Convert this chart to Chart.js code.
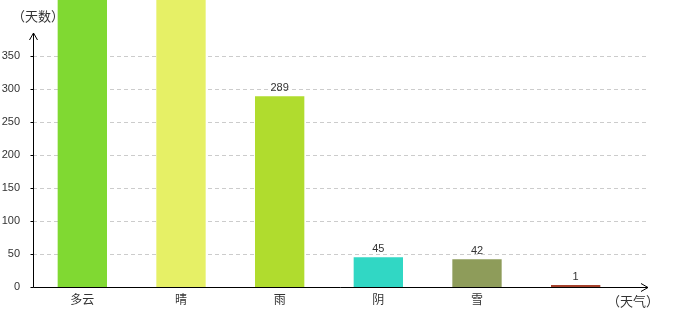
<!DOCTYPE html>
<html><head><meta charset="utf-8">
<script src="https://cdn.jsdelivr.net/npm/chart.js@4/dist/chart.umd.min.js"></script>
<style>html,body{margin:0;padding:0;background:#fff}#wrap{width:680px;height:320px}</style>
</head><body><div id="wrap"><canvas id="c" width="680" height="320"></canvas></div>
<script>
const categories = ['多云', '晴', '雨', '阴', '雪', ''];
const days = [470, 455, 289, 45, 42, 1];
const barColors = ['#80d932', '#e6f066', '#b0dc2e', '#31d7c4', '#8e9c5a', '#a5412c'];
const yTickValues = [0, 50, 100, 150, 200, 250, 300, 350];
const yAxisName = '（天数）';
const xAxisName = '（天气）';

const LATIN = '"Liberation Sans", "DejaVu Sans", sans-serif';
const CJK = '"Noto Sans CJK SC", sans-serif';

const decor = {
  id: 'decor',
  beforeDatasetsDraw(chart) {
    const ctx = chart.ctx, y = chart.scales.y;
    const left = chart.chartArea.left;
    ctx.save();
    ctx.strokeStyle = '#cccccc'; ctx.lineWidth = 1; ctx.setLineDash([4, 3]);
    yTickValues.forEach(v => {
      if (v === 0) return;
      const py = Math.round(y.getPixelForValue(v)) + 0.5;
      ctx.beginPath(); ctx.moveTo(left, py); ctx.lineTo(646, py); ctx.stroke();
    });
    ctx.setLineDash([]);
    ctx.fillStyle = '#333'; ctx.font = '13px ' + CJK; ctx.textAlign = 'center'; ctx.textBaseline = 'middle';
    ctx.fillText(yAxisName, 38, 16);
    ctx.fillText(xAxisName, 633, 301);
    ctx.restore();
  },
  afterDatasetsDraw(chart) {
    const ctx = chart.ctx, y = chart.scales.y;
    const left = Math.round(chart.chartArea.left) + 0.5, bottom = Math.round(chart.chartArea.bottom) + 0.5;
    ctx.save();
    ctx.strokeStyle = '#000'; ctx.lineWidth = 1;
    ctx.beginPath(); ctx.moveTo(left, bottom); ctx.lineTo(left, 33); ctx.stroke();
    ctx.beginPath(); ctx.moveTo(left - 4, 40); ctx.lineTo(left, 33); ctx.lineTo(left + 4, 40); ctx.stroke();
    ctx.beginPath(); ctx.moveTo(left, bottom); ctx.lineTo(648, bottom); ctx.stroke();
    ctx.beginPath(); ctx.moveTo(641, bottom - 4); ctx.lineTo(648, bottom); ctx.lineTo(641, bottom + 4); ctx.stroke();
    yTickValues.forEach(v => {
      const py = Math.round(y.getPixelForValue(v)) + 0.5;
      ctx.beginPath(); ctx.moveTo(left - 3, py); ctx.lineTo(left, py); ctx.stroke();
    });
    ctx.fillStyle = '#333'; ctx.font = '11px ' + LATIN; ctx.textAlign = 'center'; ctx.textBaseline = 'middle';
    const meta = chart.getDatasetMeta(0);
    meta.data.forEach((bar, i) => {
      const ty = Math.min(bar.y, bar.base - 2) - 8;
      if (ty > 0) ctx.fillText(String(days[i]), bar.x, ty);
    });
    ctx.restore();
  }
};

new Chart(document.getElementById('c'), {
  type: 'bar',
  data: {
    labels: categories,
    datasets: [{
      data: days,
      backgroundColor: barColors,
      borderWidth: 0,
      categoryPercentage: 1,
      barPercentage: 0.5,
      minBarLength: 2,
      clip: false
    }]
  },
  options: {
    responsive: false,
    animation: false,
    devicePixelRatio: 1,
    layout: { padding: { top: 33, right: 55, left: 0, bottom: 0 } },
    plugins: { legend: { display: false }, tooltip: { enabled: false } },
    scales: {
      x: {
        offset: true,
        grid: { display: false },
        border: { display: false },
        ticks: { color: '#333', font: { family: CJK, size: 12 }, padding: -3, maxRotation: 0, autoSkip: false },
        afterFit(s) { s.height = 33; }
      },
      y: {
        min: 0, max: 385,
        grid: { display: false },
        border: { display: false },
        ticks: { stepSize: 50, color: '#333', font: { family: LATIN, size: 11 }, padding: 5 },
        afterBuildTicks(s) { s.ticks = yTickValues.map(v => ({ value: v })); },
        afterFit(s) { s.width = 33; }
      }
    }
  },
  plugins: [decor]
});
</script></body></html>
